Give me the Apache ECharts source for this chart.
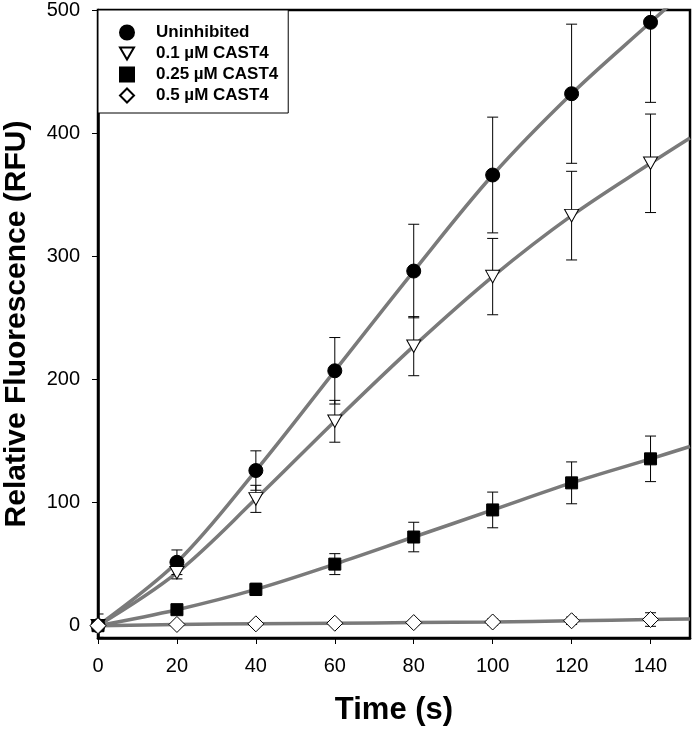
<!DOCTYPE html>
<html>
<head>
<meta charset="utf-8">
<script src="https://cdn.jsdelivr.net/npm/echarts@6/dist/echarts.min.js"></script>
<style>html,body{margin:0;padding:0;background:#fff}#c{width:693px;height:730px}</style>
</head>
<body>
<div id="c"></div>
<script>
// ---- data ----
const time = [0, 20, 40, 60, 80, 100, 120, 140];
const xTicks = [0, 20, 40, 60, 80, 100, 120, 140];
const yTicks = [0, 100, 200, 300, 400, 500];
const seriesNames = ['Uninhibited', '0.1 µM CAST4', '0.25 µM CAST4', '0.5 µM CAST4'];

const uninhibited    = [0, 51.5, 126, 207, 288, 366, 432, 490];
const uninhibitedErr = [9.5, 10, 16, 27, 38, 47, 56.5, 65];
const cast01         = [0, 43, 103, 166, 227, 283.5, 333, 375.5];
const cast01Err      = [3, 5, 11, 17, 24, 31, 36, 40];
const cast025        = [0, 13, 29.5, 50, 72, 94, 116, 135.5];
const cast025Err     = [2, 3, 5, 8.5, 12, 14.5, 17, 18.5];
const cast05         = [0, 1, 1.5, 2, 2.5, 3, 4, 5];
const cast05Err      = [1, 1, 1.5, 1.5, 2, 2.5, 3, 5.5];

// fitted curve end values at t = 150
const fitEndTime = 150;
const fitEnd = [519, 396, 145.5, 5.5];

// ---- chart ----
const FONT = '"Liberation Sans", Arial, Helvetica, sans-serif';
const means = [uninhibited, cast01, cast025, cast05];
const errs = [uninhibitedErr, cast01Err, cast025Err, cast05Err];
const symbols = ['circle', 'path://M0,0L20,0L10,17.3Z', 'rect', 'diamond'];
const sizes = [14, [14, 12.5], 12, 16];
const fills = ['#000', '#fff', '#000', '#fff'];

const series = [];
// fitted lines
means.forEach((m, i) => {
  const d = time.map((t, k) => [t, m[k]]);
  d.push([fitEndTime, fitEnd[i]]);
  series.push({
    type: 'line', data: d, smooth: 0.35, symbol: 'none', silent: true,
    lineStyle: { color: '#7a7a7a', width: 3.5 }, z: 2, clip: true
  });
});
// error bars
means.forEach((m, i) => {
  series.push({
    type: 'custom', z: 3, clip: true, silent: true,
    data: time.map((t, k) => [t, m[k] - errs[i][k], m[k] + errs[i][k]]),
    encode: { x: 0, y: [1, 2] },
    renderItem: function (params, api) {
      const x = api.value(0), lo = api.value(1), hi = api.value(2);
      const a = api.coord([x, hi]), b = api.coord([x, lo]);
      const w = 5.5;
      const st = { stroke: '#000', lineWidth: 1 };
      return {
        type: 'group', children: [
          { type: 'line', shape: { x1: a[0], y1: a[1], x2: b[0], y2: b[1] }, style: st },
          { type: 'line', shape: { x1: a[0] - w, y1: a[1], x2: a[0] + w, y2: a[1] }, style: st },
          { type: 'line', shape: { x1: b[0] - w, y1: b[1], x2: b[0] + w, y2: b[1] }, style: st }
        ]
      };
    }
  });
});
// markers
means.forEach((m, i) => {
  series.push({
    type: 'scatter', name: seriesNames[i], z: 5 + i,
    data: time.map((t, k) => [t, m[k]]),
    symbol: symbols[i], symbolSize: sizes[i],
    itemStyle: { color: fills[i], borderColor: '#000', borderWidth: 1, opacity: 1 }
  });
});

const chart = echarts.init(document.getElementById('c'), null, { renderer: 'canvas' });
chart.setOption({
  animation: false,
  backgroundColor: '#fff',
  grid: { left: 98, right: 3, top: 10, bottom: 92, containLabel: false, outerBoundsMode: 'none',
          show: true, borderColor: '#000', borderWidth: 2.5, backgroundColor: 'transparent' },
  legend: {
    data: seriesNames, orient: 'vertical', left: 98, top: 10,
    padding: [14, 10, 9, 21], itemGap: 4, itemWidth: 14, itemHeight: 14,
    backgroundColor: '#fff', borderColor: '#000', borderWidth: 1, borderRadius: 0,
    textStyle: { fontFamily: FONT, fontSize: 17, fontWeight: 'bold', color: '#000', padding: [0, 0, 0, 17], lineHeight: 14 }
  },
  xAxis: {
    type: 'value', min: 0, max: 150,
    name: 'Time (s)', nameLocation: 'middle', nameGap: 57,
    nameTextStyle: { fontFamily: FONT, fontSize: 31, fontWeight: 'bold', color: '#000' },
    axisLine: { show: true, onZero: false, lineStyle: { color: '#000', width: 2.5 } },
    axisTick: { show: true, inside: false, length: 6, customValues: xTicks, lineStyle: { color: '#000', width: 1 } },
    axisLabel: { customValues: xTicks, margin: 18, fontFamily: FONT, fontSize: 20, color: '#000' },
    splitLine: { show: false }
  },
  yAxis: {
    type: 'value', min: -10, max: 500,
    name: 'Relative Fluorescence (RFU)', nameLocation: 'middle', nameGap: 66,
    nameTextStyle: { fontFamily: FONT, fontSize: 30, fontWeight: 'bold', color: '#000' },
    axisLine: { show: true, onZero: false, lineStyle: { color: '#000', width: 2.5 } },
    axisTick: { show: true, inside: false, length: 6, customValues: yTicks, lineStyle: { color: '#000', width: 1 } },
    axisLabel: { customValues: yTicks, margin: 18, fontFamily: FONT, fontSize: 20, color: '#000' },
    splitLine: { show: false }
  },
  series: series
});
</script>
</body>
</html>
